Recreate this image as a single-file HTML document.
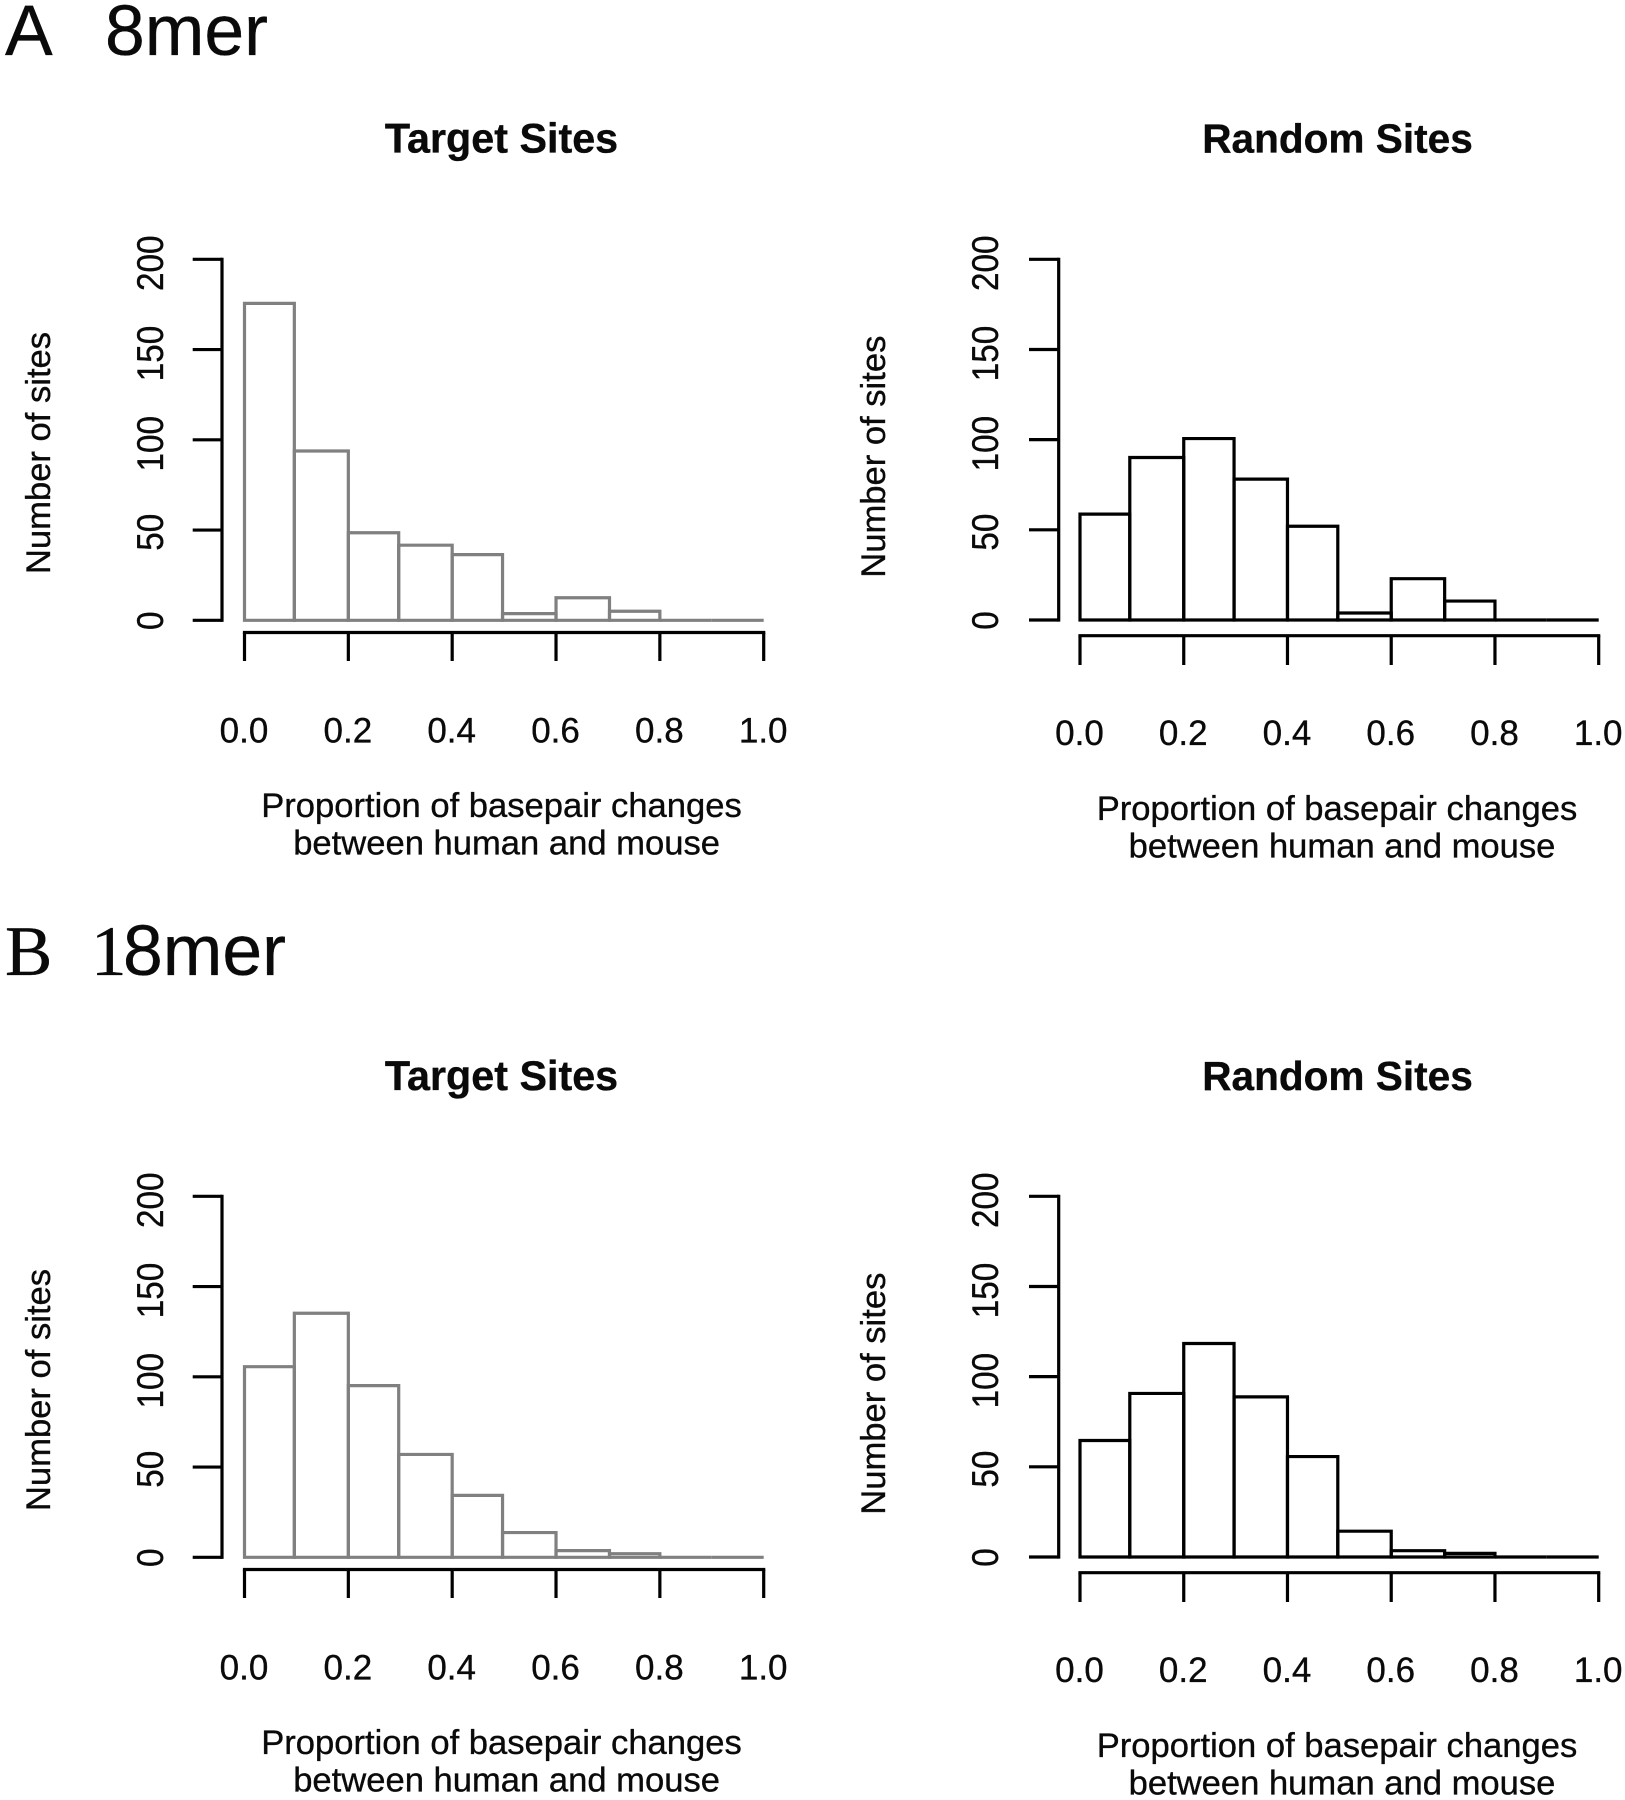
<!DOCTYPE html>
<html lang="en">
<head>
<meta charset="utf-8">
<title>Basepair changes histograms</title>
<style>
html,body{margin:0;padding:0;background:#fff;width:1625px;height:1800px;overflow:hidden}
svg{display:block}
text{font-family:"Liberation Sans",Arial,sans-serif;fill:#0a0a0a;stroke:#0a0a0a;stroke-width:.35px}
.title{font-size:41.3px;font-weight:bold;text-anchor:middle}
.title-wide{font-size:40.6px}
.axis-title{font-size:34.6px;text-anchor:middle}
.tick{font-size:35px;text-anchor:middle}
.panel-letter{font-size:71.5px}
</style>
</head>
<body>
<svg id="figure" xmlns="http://www.w3.org/2000/svg" width="1625" height="1800" viewBox="0 0 1625 1800">
  <rect x="0" y="0" width="1625" height="1800" fill="#fff"/>

  <text class="panel-letter" x="5" y="55">A</text>
  <text class="panel-letter" x="105" y="55">8mer</text>
  <text class="panel-letter" x="5" y="975" style="font-family:'Liberation Serif',serif;font-size:71px">B</text>
  <text class="panel-letter" x="91" y="975" style="font-family:'Liberation Serif',serif;font-size:71px">1</text>
  <text class="panel-letter" x="123" y="975">8mer</text>

  <text class="title" x="501.5" y="152.5">Target Sites</text>
  <text class="title title-wide" x="1337.5" y="152.5">Random Sites</text>
  <text class="title" x="501.5" y="1090">Target Sites</text>
  <text class="title title-wide" x="1337.5" y="1090">Random Sites</text>

  <text class="axis-title" transform="translate(50 453) rotate(-90)">Number of sites</text>
  <text class="axis-title" transform="translate(885 456.7) rotate(-90)">Number of sites</text>
  <text class="axis-title" transform="translate(50 1390) rotate(-90)">Number of sites</text>
  <text class="axis-title" transform="translate(885 1393.7) rotate(-90)">Number of sites</text>

  <text class="axis-title" x="501.5" y="817">Proportion of basepair changes</text>
  <text class="axis-title" x="506.6" y="854.7">between human and mouse</text>
  <text class="axis-title" x="1337" y="820">Proportion of basepair changes</text>
  <text class="axis-title" x="1342" y="857.3">between human and mouse</text>
  <text class="axis-title" x="501.5" y="1754">Proportion of basepair changes</text>
  <text class="axis-title" x="506.6" y="1791.7">between human and mouse</text>
  <text class="axis-title" x="1337" y="1757">Proportion of basepair changes</text>
  <text class="axis-title" x="1342" y="1794.3">between human and mouse</text>

  <g id="charts"></g>
</svg>
<script>
const binEdges = [0, 0.096, 0.2, 0.297, 0.4, 0.497, 0.6, 0.703, 0.8, 0.9, 1];
const target8mer = [175.6, 93.8, 48.5, 41.6, 36.4, 3.7, 12.5, 5, 0, 0];
const random8mer = [58.7, 90.1, 100.6, 78.1, 52, 3.9, 22.9, 10.5, 0, 0];
const target18mer = [105.6, 135.2, 95.1, 57, 34.3, 13.7, 3.7, 2, 0, 0];
const random18mer = [64.6, 90.7, 118.4, 88.8, 55.7, 14.3, 3.5, 2, 0, 0];
const xTickValues = [0, 0.2, 0.4, 0.6, 0.8, 1];
const xTickLabels = ['0.0', '0.2', '0.4', '0.6', '0.8', '1.0'];
const yTickValues = [0, 50, 100, 150, 200];
const yTickLabels = ['0', '50', '100', '150', '200'];

const SVG_NS = 'http://www.w3.org/2000/svg';
const charts = document.getElementById('charts');

function line(parent, x1, y1, x2, y2, stroke, cap) {
  const el = document.createElementNS(SVG_NS, 'line');
  el.setAttribute('x1', x1);
  el.setAttribute('y1', y1);
  el.setAttribute('x2', x2);
  el.setAttribute('y2', y2);
  el.setAttribute('stroke', stroke);
  el.setAttribute('stroke-width', 3.2);
  el.setAttribute('stroke-linecap', cap || 'square');
  parent.appendChild(el);
  return el;
}

function drawPanel(id, counts, layout) {
  const xScale = function (v) { return layout.left + v * (layout.right - layout.left); };
  const yScale = function (v) { return layout.base - v / 200 * (layout.base - layout.top); };

  const g = document.createElementNS(SVG_NS, 'g');
  
  
  charts.appendChild(g);

  counts.forEach(function (count, i) {
    const x1 = xScale(binEdges[i]);
    const x2 = xScale(binEdges[i + 1]);
    const bar = document.createElementNS(SVG_NS, 'path');
    
    
    bar.setAttribute('d', 'M' + x1 + ' ' + yScale(0) + 'V' + yScale(count) + 'H' + x2 + 'V' + yScale(0) + 'Z');
    bar.setAttribute('fill', 'none');
    bar.setAttribute('stroke', layout.color);
    bar.setAttribute('stroke-width', 3.2);
    bar.setAttribute('stroke-linecap', 'square');
    g.appendChild(bar);
  });

  const xAxis = line(g, xScale(0), layout.xAxisY, xScale(1), layout.xAxisY, '#000');
  
  

  xTickValues.forEach(function (v, i) {
    const tick = line(g, xScale(v), layout.xAxisY, xScale(v), layout.xTickEnd, '#000', 'butt');
    
    
    const label = document.createElementNS(SVG_NS, 'text');
    
    
    label.setAttribute('class', 'tick');
    label.setAttribute('x', xScale(v) - 0.5);
    label.setAttribute('y', layout.xLabelY);
    label.textContent = xTickLabels[i];
    g.appendChild(label);
  });

  const yAxis = line(g, layout.yAxisX, yScale(0), layout.yAxisX, yScale(200), '#000');
  
  

  yTickValues.forEach(function (v, i) {
    const tick = line(g, layout.yTickEnd, yScale(v), layout.yAxisX, yScale(v), '#000', 'butt');
    
    
    const shift = 0.5 + (yTickLabels[i].length - 1) * 1.75;
    const label = document.createElementNS(SVG_NS, 'text');
    
    
    label.setAttribute('class', 'tick');
    label.setAttribute('transform', 'translate(' + layout.yLabelX + ' ' + (yScale(v) + shift) + ') rotate(-90) scale(0.95 1.06)');
    label.textContent = yTickLabels[i];
    g.appendChild(label);
  });
}

function leftLayout(dy) {
  return { left: 244.5, right: 763.7, base: 620.3 + dy, top: 259.3 + dy, yAxisX: 222, yTickEnd: 192.7,
    xAxisY: 632.5 + dy, xTickEnd: 661 + dy, xLabelY: 742.3 + dy, yLabelX: 163, color: '#808080' };
}
function rightLayout(dy) {
  return { left: 1080, right: 1598.7, base: 620 + dy, top: 259.3 + dy, yAxisX: 1058.7, yTickEnd: 1029,
    xAxisY: 635.7 + dy, xTickEnd: 665 + dy, xLabelY: 745 + dy, yLabelX: 998, color: '#000' };
}

drawPanel('a-target', target8mer, leftLayout(0));
drawPanel('a-random', random8mer, rightLayout(0));
drawPanel('b-target', target18mer, leftLayout(937));
drawPanel('b-random', random18mer, rightLayout(937));
</script>
</body>
</html>
